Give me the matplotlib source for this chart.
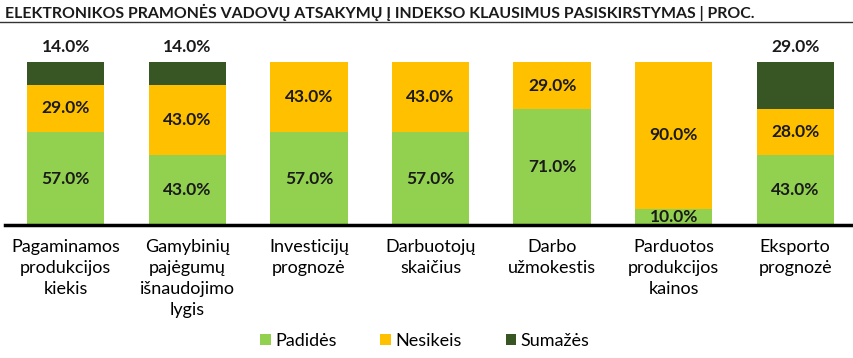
import matplotlib
matplotlib.use("Agg")
import matplotlib.pyplot as plt
import numpy as np

plt.rcParams['font.family'] = ['Lato', 'DejaVu Sans']

categories = ["Pagaminamos\nprodukcijos\nkiekis", "Gamybinių\npajėgumų\nišnaudojimo\nlygis",
              "Investicijų\nprognozė", "Darbuotojų\nskaičius", "Darbo\nužmokestis",
              "Parduotos\nprodukcijos\nkainos", "Eksporto\nprognozė"]
padides = [57, 43, 57, 57, 71, 10, 43]
nesikeis = [29, 43, 43, 43, 29, 90, 28]
sumazes = [14, 14, 0, 0, 0, 0, 29]
series_names = ["Padidės", "Nesikeis", "Sumažės"]
colors = ["#92D050", "#FFC000", "#375623"]

fig = plt.figure(figsize=(8.54, 3.58), dpi=100)
ax = fig.add_axes([5/854, 133/358, 851/854, 163/358])
x = np.arange(len(categories))
w = 0.635
bottom = np.zeros(len(categories))
for vals, name, c in zip([padides, nesikeis, sumazes], series_names, colors):
    v = np.array(vals, dtype=float)
    ax.bar(x, v, w, bottom=bottom, color=c, label=name, zorder=2)
    for xi, b, val in zip(x, bottom, v):
        if val <= 0:
            continue
        if name == "Sumažės":
            y = b + val + 9
        else:
            y = b + val / 2
        ax.text(xi, y, f"{val:.1f}%", ha="center", va="center", fontsize=12.5,
                fontweight="bold", color="#1a1a1a", clip_on=False)
    bottom += v

ax.set_xlim(-0.5, 6.5)
ax.set_ylim(0, 100)
for s in ["top", "right", "left"]:
    ax.spines[s].set_visible(False)
ax.spines["bottom"].set_linewidth(2.5)
ax.spines["bottom"].set_zorder(3)
ax.set_yticks([])
ax.set_xticks(x)
ax.set_xticklabels(categories, fontsize=13, linespacing=1.4)
ax.tick_params(axis="x", length=0, pad=10)

fig.text(5/854, 1 - 12/358, "ELEKTRONIKOS PRAMONĖS VADOVŲ ATSAKYMŲ Į INDEKSO KLAUSIMUS PASISKIRSTYMAS | PROC.",
         fontsize=11.4, fontweight="bold", ha="left", va="center", color="#1a1a1a")
fig.add_artist(plt.Line2D([0, 1], [1 - 22/358, 1 - 22/358], color="#333333", lw=1))

leg = fig.legend(loc="center", bbox_to_anchor=(425/854, 1 - 341/358), ncol=3, frameon=False,
                 fontsize=13, handlelength=0.6, handleheight=0.6, handletextpad=0.25, columnspacing=2.4)

fig.savefig("out.png", dpi=100)
